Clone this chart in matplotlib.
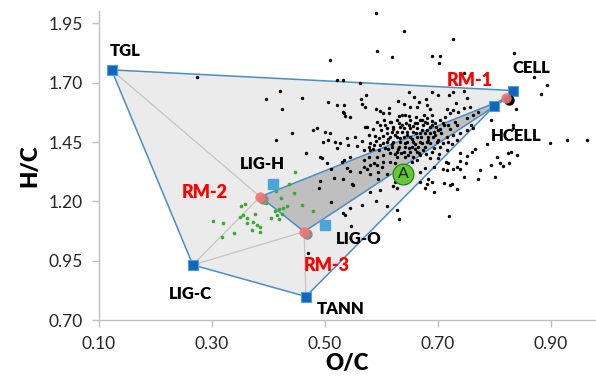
import numpy as np
import matplotlib
matplotlib.use("Agg")
import matplotlib.pyplot as plt
from matplotlib.transforms import offset_copy

plt.rcParams['font.family'] = ['Lato', 'DejaVu Sans']

# end members (O/C, H/C)
members = ['TGL', 'CELL', 'HCELL', 'LIG-H', 'LIG-O', 'LIG-C', 'TANN']
member_oc = [0.123, 0.833, 0.800, 0.409, 0.500, 0.267, 0.467]
member_hc = [1.754, 1.667, 1.600, 1.273, 1.100, 0.933, 0.800]

# reference mixtures
ref_names = ['RM-1', 'RM-2', 'RM-3']
ref_oc = [0.822, 0.386, 0.464]
ref_hc = [1.634, 1.220, 1.073]

point_a_oc = 0.639
point_a_hc = 1.316

# biomass samples
biomass = [
    (0.275, 1.723), (0.421, 1.666), (0.396, 1.631), (0.461, 1.634), (0.506, 1.619),
    (0.424, 1.589), (0.509, 1.796), (0.442, 1.487), (0.415, 1.458),
    (0.592, 1.995), (0.640, 1.919), (0.728, 1.884), (0.593, 1.833), (0.620, 1.808),
    (0.691, 1.811), (0.704, 1.811), (0.703, 1.783),
    (0.522, 1.711), (0.532, 1.711), (0.563, 1.697), (0.747, 1.742), (0.650, 1.661),
    (0.690, 1.661), (0.565, 1.633), (0.573, 1.650), (0.630, 1.623), (0.640, 1.612),
    (0.659, 1.639), (0.668, 1.618), (0.680, 1.630), (0.700, 1.647), (0.720, 1.647),
    (0.727, 1.661), (0.747, 1.666), (0.753, 1.637), (0.732, 1.615),
    (0.522, 1.607), (0.535, 1.605), (0.566, 1.610), (0.572, 1.596), (0.591, 1.591),
    (0.615, 1.595), (0.651, 1.599), (0.664, 1.596), (0.687, 1.589), (0.716, 1.589),
    (0.598, 1.580), (0.604, 1.574), (0.615, 1.574), (0.681, 1.606),
    (0.835, 1.824), (0.870, 1.723), (0.893, 1.692), (0.884, 1.652), (0.839, 1.588),
    (0.834, 1.522), (0.834, 1.508),
    (0.787, 1.442), (0.899, 1.448), (0.930, 1.459), (0.964, 1.459), (0.824, 1.403),
    (0.830, 1.410), (0.840, 1.396), (0.805, 1.386), (0.827, 1.364), (0.811, 1.361),
    (0.816, 1.351), (0.795, 1.354), (0.766, 1.420), (0.761, 1.408), (0.752, 1.391),
    (0.740, 1.370), (0.750, 1.361), (0.776, 1.333), (0.801, 1.304), (0.772, 1.296),
    (0.747, 1.304), (0.734, 1.344), (0.740, 1.336), (0.728, 1.336), (0.716, 1.333),
    (0.710, 1.336), (0.712, 1.279), (0.722, 1.269), (0.725, 1.274), (0.735, 1.251),
    (0.721, 1.139), (0.715, 1.368), (0.718, 1.361),
    (0.710, 1.532), (0.719, 1.522), (0.731, 1.536), (0.734, 1.522), (0.722, 1.504),
    (0.707, 1.487), (0.716, 1.473), (0.728, 1.480), (0.740, 1.487), (0.752, 1.501),
    (0.760, 1.522), (0.763, 1.508), (0.710, 1.445), (0.719, 1.452), (0.725, 1.442),
    (0.734, 1.459), (0.716, 1.417), (0.740, 1.403),
    (0.681, 1.550), (0.690, 1.564), (0.696, 1.529), (0.704, 1.543), (0.713, 1.557),
    (0.722, 1.571), (0.728, 1.585), (0.737, 1.578), (0.746, 1.592), (0.757, 1.599),
    (0.693, 1.494), (0.701, 1.501), (0.684, 1.473), (0.696, 1.480), (0.687, 1.445),
    (0.699, 1.452), (0.693, 1.424), (0.704, 1.431), (0.687, 1.382), (0.701, 1.382),
    (0.693, 1.346), (0.752, 1.550), (0.763, 1.564), (0.772, 1.578), (0.795, 1.545),
    (0.672, 1.543),
    (0.535, 1.574), (0.537, 1.560), (0.545, 1.557), (0.593, 1.536), (0.631, 1.560),
    (0.637, 1.564), (0.643, 1.564), (0.652, 1.543), (0.628, 1.543), (0.616, 1.536),
    (0.607, 1.522), (0.572, 1.512), (0.598, 1.522), (0.622, 1.515), (0.631, 1.529),
    (0.637, 1.522), (0.649, 1.522), (0.660, 1.529), (0.669, 1.543), (0.675, 1.522),
    (0.681, 1.529), (0.687, 1.515), (0.640, 1.508), (0.652, 1.508), (0.663, 1.508),
    (0.672, 1.501), (0.681, 1.501), (0.657, 1.494), (0.646, 1.494), (0.637, 1.494),
    (0.628, 1.494), (0.619, 1.494), (0.610, 1.487), (0.669, 1.487), (0.678, 1.487),
    (0.687, 1.487), (0.663, 1.473), (0.652, 1.473), (0.640, 1.473), (0.628, 1.473),
    (0.616, 1.473), (0.604, 1.476), (0.590, 1.476), (0.596, 1.466), (0.581, 1.445),
    (0.578, 1.431), (0.587, 1.438), (0.598, 1.438), (0.610, 1.452), (0.622, 1.452),
    (0.634, 1.452), (0.646, 1.452), (0.657, 1.452), (0.669, 1.452), (0.681, 1.452),
    (0.643, 1.431), (0.655, 1.431), (0.666, 1.431), (0.678, 1.431), (0.631, 1.431),
    (0.619, 1.431), (0.607, 1.424), (0.596, 1.417), (0.581, 1.417), (0.569, 1.417),
    (0.628, 1.410), (0.640, 1.410), (0.652, 1.410), (0.663, 1.410), (0.675, 1.417),
    (0.616, 1.403), (0.604, 1.396), (0.593, 1.389), (0.578, 1.389), (0.569, 1.375),
    (0.628, 1.389), (0.643, 1.389), (0.657, 1.389), (0.669, 1.396), (0.604, 1.368),
    (0.616, 1.368), (0.625, 1.361), (0.593, 1.354), (0.581, 1.354), (0.569, 1.346),
    (0.534, 1.375), (0.531, 1.368), (0.545, 1.389), (0.522, 1.424), (0.519, 1.452),
    (0.510, 1.487), (0.539, 1.466), (0.554, 1.473), (0.575, 1.515), (0.587, 1.361),
    (0.601, 1.346), (0.655, 1.368), (0.663, 1.375),
    (0.613, 1.462), (0.625, 1.480), (0.634, 1.466), (0.646, 1.481), (0.655, 1.462),
    (0.662, 1.489), (0.671, 1.470), (0.619, 1.441), (0.630, 1.420), (0.642, 1.445),
    (0.650, 1.425), (0.660, 1.440), (0.672, 1.446), (0.684, 1.460), (0.692, 1.470),
    (0.700, 1.460), (0.622, 1.503), (0.634, 1.513), (0.645, 1.530), (0.657, 1.519),
    (0.664, 1.532), (0.677, 1.535), (0.690, 1.540), (0.698, 1.515), (0.610, 1.510),
    (0.600, 1.500), (0.592, 1.455), (0.603, 1.445), (0.612, 1.420), (0.624, 1.398),
    (0.636, 1.402), (0.648, 1.395), (0.660, 1.420), (0.668, 1.405), (0.680, 1.400),
    (0.690, 1.410), (0.702, 1.400), (0.650, 1.560), (0.662, 1.556), (0.676, 1.566),
    (0.690, 1.520), (0.705, 1.505), (0.712, 1.520), (0.617, 1.535), (0.606, 1.545),
    (0.585, 1.505), (0.579, 1.480), (0.566, 1.455), (0.557, 1.435), (0.585, 1.420),
    (0.516, 1.298), (0.533, 1.295), (0.545, 1.328), (0.551, 1.269), (0.575, 1.337),
    (0.595, 1.325), (0.492, 1.286), (0.490, 1.256), (0.511, 1.199), (0.545, 1.171),
    (0.566, 1.185), (0.591, 1.202), (0.610, 1.181), (0.536, 1.143), (0.547, 1.097),
    (0.631, 1.126), (0.628, 1.164), (0.598, 1.248), (0.581, 1.241), (0.622, 1.267),
    (0.629, 1.258), (0.625, 1.283), (0.669, 1.281), (0.678, 1.256), (0.684, 1.295),
    (0.690, 1.281), (0.669, 1.325), (0.677, 1.340), (0.645, 1.300), (0.511, 1.337),
    (0.539, 1.342), (0.563, 1.323), (0.581, 1.315), (0.610, 1.315), (0.595, 1.295),
    (0.548, 1.272), (0.533, 1.153), (0.471, 0.985), (0.693, 1.241), (0.681, 1.274),
    (0.495, 1.382),
    (0.533, 1.578), (0.486, 1.508), (0.480, 1.501), (0.501, 1.494), (0.507, 1.459),
    (0.498, 1.452), (0.527, 1.445), (0.542, 1.438), (0.492, 1.389), (0.504, 1.361),
    (0.468, 1.403),
]

# green samples
green_samples = [
    (0.448, 1.325), (0.437, 1.272), (0.415, 1.245), (0.446, 1.235), (0.423, 1.213),
    (0.396, 1.192), (0.433, 1.181), (0.460, 1.185), (0.426, 1.171), (0.420, 1.167),
    (0.412, 1.161), (0.479, 1.161), (0.359, 1.188), (0.353, 1.181), (0.416, 1.143),
    (0.424, 1.146), (0.405, 1.132), (0.420, 1.125), (0.377, 1.146), (0.356, 1.143),
    (0.350, 1.136), (0.363, 1.129), (0.374, 1.115), (0.362, 1.111), (0.380, 1.101),
    (0.386, 1.091), (0.371, 1.080), (0.386, 1.073), (0.303, 1.118), (0.321, 1.108),
    (0.340, 1.069), (0.318, 1.049),
]

pts = {n: (x, y) for n, x, y in zip(members, member_oc, member_hc)}
pts.update({n: (x, y) for n, x, y in zip(ref_names, ref_oc, ref_hc)})

fig = plt.figure(figsize=(5.96, 3.79), dpi=100)
ax = fig.add_axes([0.1653, 0.1549, 0.8347, 0.8150])

blue = '#4a8ec4'

# outer hull
outer = ['TGL', 'CELL', 'HCELL', 'TANN', 'LIG-C']
ax.fill([pts[n][0] for n in outer], [pts[n][1] for n in outer],
        facecolor='#ebebeb', edgecolor=blue, linewidth=1.1, zorder=1)

# reference mixture triangle
ax.fill(ref_oc, ref_hc, facecolor='#bfbfbf', edgecolor=blue, linewidth=1.1, zorder=2)

# thin mixing lines
for a, b in [('TGL', 'RM-2'), ('LIG-C', 'RM-2'), ('LIG-C', 'RM-3'), ('TANN', 'RM-3')]:
    ax.plot([pts[a][0], pts[b][0]], [pts[a][1], pts[b][1]],
            color='#c4c4c4', linewidth=0.9, zorder=1.5)

bx, by = zip(*biomass)
ax.scatter(bx, by, s=6, color='black', linewidths=0, zorder=4)
gx, gy = zip(*green_samples)
ax.scatter(gx, gy, s=7, color='#3aaa30', linewidths=0, zorder=4)

# end member squares
light = ['LIG-H', 'LIG-O']
for n in members:
    if n in light:
        ax.plot(*pts[n], 's', ms=7.5, mfc='#4aa6d8', mec='#4aa6d8', zorder=5)
    else:
        ax.plot(*pts[n], 's', ms=7.5, mfc='#1167bd', mec='#4aa0dc', mew=0.8, zorder=5)

# reference mixture circles with shadow
shadow = offset_copy(ax.transData, fig=fig, x=2.5, y=-2, units='dots')
shadow_col = ['black', '#8c8c8c', '#8c8c8c']
for x, y, c in zip(ref_oc, ref_hc, shadow_col):
    ax.plot(x, y, 'o', ms=7.5, mfc=c, mec='none', transform=shadow, zorder=6)
    ax.plot(x, y, 'o', ms=7.5, mfc='#f07575', mec='none', alpha=0.9, zorder=6.5)

ax.plot(point_a_oc, point_a_hc, 'o', ms=15, mfc='#64c832', mec='#2e7d1f', mew=0.9, zorder=7)
ax.text(point_a_oc, point_a_hc, 'A', ha='center', va='center', fontsize=11.5,
        color='#1a1a1a', zorder=8)

# labels, offsets in pixels from the marker
member_off = {'TGL': (14, 19), 'CELL': (19, 23), 'HCELL': (22, -30), 'LIG-H': (-11, 20),
              'LIG-O': (34, -14), 'LIG-C': (-2, -29), 'TANN': (35, -12)}
ref_off = {'RM-1': (-37, 18), 'RM-2': (-55, 4), 'RM-3': (23, -34)}
for n, off in member_off.items():
    ax.annotate(n, pts[n], xytext=off, textcoords='offset pixels', ha='center',
                va='center', fontsize=12, fontweight='heavy', color='black', zorder=9)
for n, off in ref_off.items():
    ax.annotate(n, pts[n], xytext=off, textcoords='offset pixels', ha='center',
                va='center', fontsize=13, fontweight='heavy', color='#ff0000', zorder=9)

ax.set_xlim(0.10, 0.9805)
ax.set_ylim(0.70, 2.0)
ax.set_xticks(np.arange(0.10, 0.91, 0.20))
ax.set_yticks(np.arange(0.70, 1.96, 0.25))
ax.xaxis.set_major_formatter(lambda v, p: f'{v:.2f}')
ax.yaxis.set_major_formatter(lambda v, p: f'{v:.2f}')
for s in ['top', 'right']:
    ax.spines[s].set_visible(False)
for s in ['left', 'bottom']:
    ax.spines[s].set_color('#bfbfbf')
    ax.spines[s].set_linewidth(1.0)
ax.tick_params(length=5, width=1, color='#bfbfbf', labelsize=12.5,
               labelcolor='#262626', pad=6)

ax.set_xlabel('O/C', fontsize=16, fontweight='heavy', labelpad=1)
ax.set_ylabel('H/C', fontsize=16, fontweight='heavy', labelpad=6)

fig.savefig('out.png', dpi=100)
